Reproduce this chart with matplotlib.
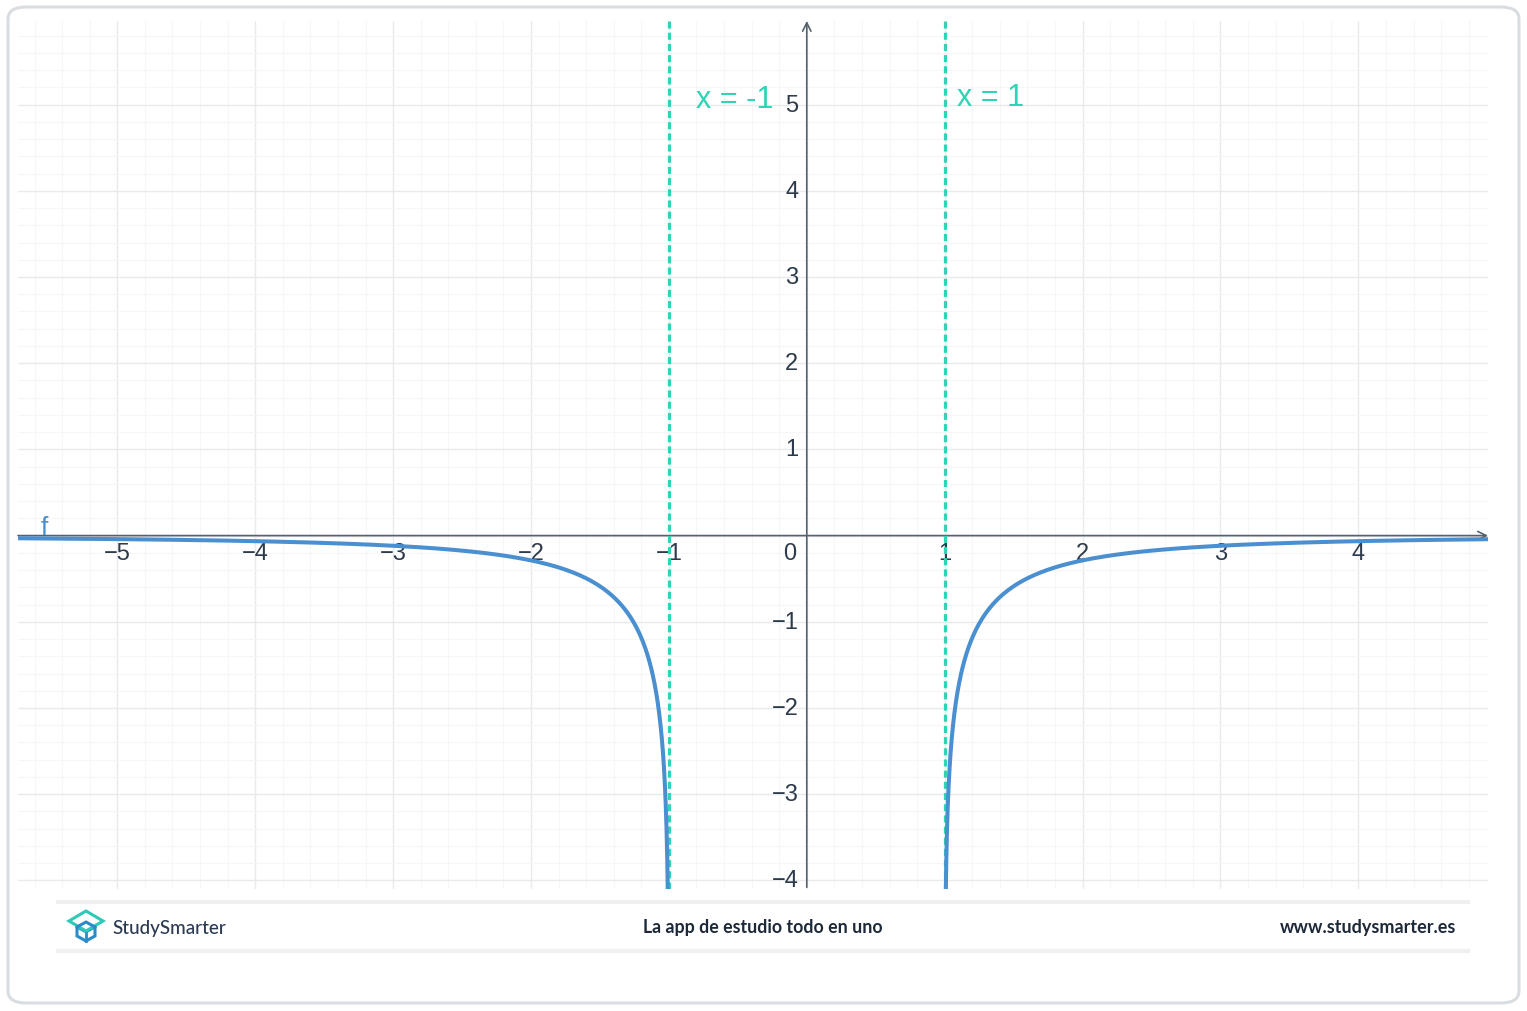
import numpy as np
import matplotlib
matplotlib.use("Agg")
import matplotlib.pyplot as plt
from matplotlib.patches import FancyBboxPatch, Polygon
from matplotlib.lines import Line2D

# ---- data ----
x_left_branch = (-5.72, -1.0)     # domain pieces of f(x) = ln(1 - 1/x^2)
x_right_branch = (1.0, 4.94)
asymptotes = [-1, 1]
asymptote_labels = ["x = -1", "x = 1"]
x_ticks = [-5, -4, -3, -2, -1, 1, 2, 3, 4]
y_ticks = [-4, -3, -2, -1, 1, 2, 3, 4, 5]
x_limits = (-5.72, 4.94)
y_limits = (-4.10, 5.97)
footer_left = "StudySmarter"
footer_mid = "La app de estudio todo en uno"
footer_right = "www.studysmarter.es"


def f(x):
    return np.log(1.0 - 1.0 / x ** 2)


W, H = 1527, 1012
fig = plt.figure(figsize=(W / 100, H / 100), dpi=100)
fig.patch.set_facecolor("white")

# outer rounded frame
frame = FancyBboxPatch((8 / W, 8 / H), (1519 - 8) / W, (1004 - 8) / H,
                       boxstyle="round,pad=0,rounding_size=0.012",
                       transform=fig.transFigure, facecolor="none",
                       edgecolor="#d9dde2", linewidth=2.2, zorder=10)
fig.add_artist(frame)

left_px, right_px, top_px, bot_px = 18, 1488, 22, 890
ax = fig.add_axes([left_px / W, 1 - bot_px / H, (right_px - left_px) / W, (bot_px - top_px) / H])
ax.set_xlim(*x_limits)
ax.set_ylim(*y_limits)
ax.patch.set_alpha(0)
for s in ax.spines.values():
    s.set_visible(False)
ax.tick_params(which="both", length=0, labelbottom=False, labelleft=False)
ax.set_xticks(np.arange(-5, 5, 1))
ax.set_yticks(np.arange(-4, 6, 1))
ax.set_xticks(np.arange(-5.6, 5.0, 0.2), minor=True)
ax.set_yticks(np.arange(-4.0, 6.0, 0.2), minor=True)
ax.grid(which="major", color="#e9eaec", linewidth=1.0, zorder=0)
ax.grid(which="minor", color="#f6f6f7", linewidth=0.8, zorder=0)
ax.set_axisbelow(True)

axis_color = "#56616e"
# x axis with arrow
ax.annotate("", xy=(x_limits[1], 0), xytext=(x_limits[0], 0),
            arrowprops=dict(arrowstyle="->,head_length=0.6,head_width=0.3", color=axis_color, lw=1.2,
                            shrinkA=0, shrinkB=0), zorder=2)
# y axis with arrow
ax.annotate("", xy=(0, y_limits[1]), xytext=(0, y_limits[0] + 0.02),
            arrowprops=dict(arrowstyle="->,head_length=0.6,head_width=0.3", color=axis_color, lw=1.2,
                            shrinkA=0, shrinkB=0), zorder=2)

label_font = "Liberation Sans"
tick_color = "#2c3a4a"
for t in x_ticks:
    ax.annotate(f"{t}".replace("-", "\u2212"), xy=(t, 0), xytext=(0, -12.5), textcoords="offset points",
                ha="center", va="center", fontsize=17, color=tick_color, family=label_font, zorder=2)
for t in y_ticks:
    ax.annotate(f"{t}".replace("-", "\u2212"), xy=(0, t), xytext=(-6, 0), textcoords="offset points",
                ha="right", va="center", fontsize=17, color=tick_color, family=label_font, zorder=2)
ax.annotate("0", xy=(0, 0), xytext=(-12, -12.5), textcoords="offset points",
            ha="center", va="center", fontsize=17, color=tick_color, family=label_font, zorder=2)

# asymptotes
teal = "#2fd4b5"
for a, lab in zip(asymptotes, asymptote_labels):
    ax.plot([a, a], [y_limits[0], y_limits[1]], color=teal, lw=2.3, linestyle=(0, (2.2, 1.3)),
            zorder=4, solid_capstyle="butt")
ax.text(-0.80, 5.07, asymptote_labels[0], color=teal, fontsize=22, family=label_font,
        ha="left", va="center", zorder=5)
ax.text(1.09, 5.09, asymptote_labels[1], color=teal, fontsize=22, family=label_font,
        ha="left", va="center", zorder=5)

# function branches
blue = "#4a8fd0"
for lo, hi in (x_left_branch, x_right_branch):
    if lo < 0:
        xs = np.concatenate([np.linspace(lo, -1.5, 400), -(1 + np.geomspace(0.5, 1e-5, 1500))])
    else:
        xs = np.concatenate([1 + np.geomspace(1e-5, 0.5, 1500), np.linspace(1.5, hi, 400)])
    ax.plot(xs, f(xs), color=blue, lw=2.9, zorder=6, solid_capstyle="butt")
ax.text(-5.53, -0.04, "f", color=blue, fontsize=19, family=label_font, ha="center", va="bottom", zorder=7)

# footer
for ypx in (903, 952):
    fig.add_artist(Line2D([58 / W, 1468 / W], [1 - ypx / H, 1 - ypx / H], color="#eef0f2", lw=3.0))

footer_font = ["Lato", "DejaVu Sans"]
fig.text(112 / W, 1 - 929 / H, footer_left, fontsize=13.6, color="#2b3a52", family=footer_font,
         weight="medium", ha="left", va="center")
fig.text(763 / W, 1 - 928 / H, footer_mid, fontsize=12.8, color="#1d2838", family=footer_font,
         weight="bold", ha="center", va="center")
fig.text(1456 / W, 1 - 928 / H, footer_right, fontsize=13, color="#1d2838", family=footer_font,
         weight="bold", ha="right", va="center")

# logo (simple cube outline)
cx, cy = 86, 928
def P(dx, dy):
    return ((cx + dx) / W, 1 - (cy + dy) / H)
top = Polygon([P(-17, -6), P(0, -16), P(17, -6), P(0, 4)], closed=True, fill=False,
              edgecolor="#2fc9b7", lw=2.2, transform=fig.transFigure, zorder=5)
cube = Polygon([P(-9, 0), P(0, -5), P(9, 0), P(9, 9), P(0, 14), P(-9, 9)], closed=True, fill=False,
               edgecolor="#2b8bc9", lw=2.2, transform=fig.transFigure, zorder=5)
fig.add_artist(top)
fig.add_artist(cube)
fig.add_artist(Line2D([P(-9, 0)[0], P(0, 5)[0], P(9, 0)[0]], [P(-9, 0)[1], P(0, 5)[1], P(9, 0)[1]],
                      color="#2b8bc9", lw=2.0))
fig.add_artist(Line2D([P(0, 5)[0], P(0, 14)[0]], [P(0, 5)[1], P(0, 14)[1]], color="#2b8bc9", lw=2.0))

fig.savefig("out.png", dpi=100, facecolor="white")
